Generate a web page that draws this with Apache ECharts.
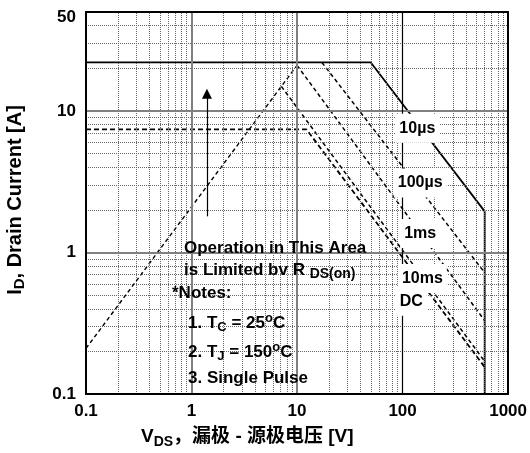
<!DOCTYPE html>
<html>
<head>
<meta charset="utf-8">
<script src="https://cdn.jsdelivr.net/npm/echarts@6/dist/echarts.min.js"></script>
<style>
  html, body { margin: 0; padding: 0; background: #fff; }
  #chart { width: 530px; height: 453px; }
</style>
</head>
<body>
<div id="chart"></div>
<script>
// Axis tick labels
const xTicks = [0.1, 1, 10, 100, 1000];
const yTicks = [0.1, 1, 10, 50];

// Safe operating area limits: V_DS [V] and I_D [A]
const rdsV = [0.1, 10];
const rdsI = [0.21, 21];
const us10V = [0.1, 50, 600, 600];
const us10I = [22, 22, 1.95, 0.1];
const us100V = [17.2, 600];
const us100I = [22, 0.72];
const ms1V = [10, 600];
const ms1I = [21, 0.33];
const ms10V = [7.1, 600];
const ms10I = [14.9, 0.17];
const dcV = [0.1, 12.3, 600];
const dcI = [7.4, 7.4, 0.155];

// Curve names
const curveNames = ['10µs', '100µs', '1ms', '10ms', 'DC'];

const FONT = '"Liberation Sans", Arial, "Noto Sans CJK SC", sans-serif';

function pairs(v, i) { return v.map((x, k) => [x, i[k]]); }

// Minor grid positions 2..9 within each decade of the axis ranges
function minorLines(lo, hi) {
  const out = [];
  for (let d = lo; d < hi; d *= 10) {
    for (let k = 2; k <= 9; k++) {
      const v = +(d * k).toPrecision(3);
      if (v < hi) out.push(v);
    }
  }
  return out;
}
const minorX = minorLines(0.1, 1000);
const minorY = minorLines(0.1, 50);

const minorStyle = { color: '#666', width: 1, type: [1, 1] };
const majorStyle = { color: '#808080', width: 2, type: 'solid' };
const gridData = []
  .concat(minorX.map(v => ({ xAxis: v, lineStyle: minorStyle })))
  .concat(minorY.map(v => ({ yAxis: v, lineStyle: minorStyle })))
  .concat([1, 10].map(v => ({ xAxis: v, lineStyle: majorStyle })))
  .concat([1, 10].map(v => ({ yAxis: v, lineStyle: majorStyle })))
  .concat([{ xAxis: 100, lineStyle: { color: '#000', width: 1.2, type: 'solid' } }]);

const dash = [4, 3];
function curve(name, v, i, style) {
  return {
    name, type: 'line', data: pairs(v, i), showSymbol: false, symbol: 'none',
    silent: true, z: 3, lineStyle: Object.assign({ color: '#000', width: 1.5, type: dash }, style)
  };
}

function curveLabel(text, coord) {
  return {
    coord, value: text,
    label: {
      show: true, formatter: text, color: '#000', backgroundColor: '#fff',
      fontFamily: FONT, fontWeight: 'bold', fontSize: 16, padding: [7, 4, 6, 4]
    }
  };
}

function richText(size, subSize) {
  return {
    m: { fontFamily: FONT, fontWeight: 'bold', fontSize: size, fill: '#000' },
    s: { fontFamily: FONT, fontWeight: 'bold', fontSize: subSize, fill: '#000', padding: [Math.round(size * 0.5), 0, 0, 0] },
    p: { fontFamily: FONT, fontWeight: 'bold', fontSize: subSize, fill: '#000', padding: [0, 0, Math.round(size * 0.55), 0] }
  };
}

const baseAxis = {
  type: 'log', logBase: 10,
  axisTick: { show: false },
  splitLine: { show: false },
  minorSplitLine: { show: false },
  axisLine: { show: true, lineStyle: { color: '#000', width: 2 } },
  z: 10
};
const fmt = v => String(+(+v).toPrecision(3));
const labelStyle = { color: '#000', fontFamily: FONT, fontWeight: 'bold', fontSize: 17 };

const option = {
  animation: false,
  backgroundColor: '#fff',
  grid: { left: 86, right: 21, top: 12, bottom: 59, show: false },
  xAxis: [
    Object.assign({}, baseAxis, {
      min: 0.1, max: 1000, position: 'bottom',
      axisLabel: Object.assign({ show: true, margin: 9, customValues: xTicks, formatter: fmt }, labelStyle)
    }),
    Object.assign({}, baseAxis, {
      min: 0.1, max: 1000, position: 'top', axisLabel: { show: false }
    })
  ],
  yAxis: [
    Object.assign({}, baseAxis, {
      min: 0.1, max: 50, position: 'left',
      axisLabel: Object.assign({
        show: true, margin: 10, customValues: yTicks,
        formatter: v => (+v >= 49 ? '{top|' + fmt(v) + '}' : fmt(v)),
        rich: { top: Object.assign({ padding: [11, 0, 0, 0] }, labelStyle) }
      }, labelStyle)
    }),
    Object.assign({}, baseAxis, {
      min: 0.1, max: 50, position: 'right', axisLabel: { show: false }
    })
  ],
  series: [
    {
      name: 'grid', type: 'line', data: [], z: 1, silent: true,
      markLine: {
        silent: true, symbol: 'none', label: { show: false }, animation: false,
        data: gridData
      }
    },
    curve('RDS(on)', rdsV, rdsI, { width: 1.4 }),
    curve(curveNames[0], us10V, us10I, { type: 'solid', width: 1.8 }),
    curve(curveNames[1], us100V, us100I, {}),
    curve(curveNames[2], ms1V, ms1I, {}),
    curve(curveNames[3], ms10V, ms10I, {}),
    curve(curveNames[4], dcV, dcI, { width: 1.8, type: [5, 3] }),
    {
      name: 'arrow', type: 'line', data: [], z: 3, silent: true,
      markLine: {
        silent: true, symbol: ['none', 'triangle'], symbolSize: 10,
        label: { show: false }, animation: false,
        lineStyle: { color: '#000', width: 1.2, type: 'solid' },
        itemStyle: { color: '#000' },
        data: [[{ coord: [1.4, 1.8] }, { coord: [1.4, 13.2] }]]
      }
    },
    {
      name: 'labels', type: 'line', data: [], z: 7, silent: true,
      markPoint: {
        silent: true, symbol: 'rect', symbolSize: 1, itemStyle: { color: 'rgba(0,0,0,0)' },
        animation: false,
        data: [
          curveLabel(curveNames[0], [138, 7.55]),
          curveLabel(curveNames[1], [147, 3.1]),
          curveLabel(curveNames[2], [147, 1.36]),
          curveLabel(curveNames[3], [154, 0.656]),
          curveLabel(curveNames[4], [121, 0.452])
        ]
      }
    }
  ],
  graphic: {
    elements: [
      { type: 'rect', z: 5, silent: true, shape: { x: 173, y: 236, width: 207, height: 48 }, style: { fill: '#fff' } },
      { type: 'rect', z: 5, silent: true, shape: { x: 165, y: 284, width: 148, height: 109 }, style: { fill: '#fff' } },
      {
        type: 'text', z: 8, silent: true, x: 184, y: 248,
        style: { text: 'Operation in This Area', fill: '#000', font: 'bold 17px ' + FONT, verticalAlign: 'middle' }
      },
      {
        type: 'text', z: 8, silent: true, x: 184, y: 270,
        style: {
          text: '{m|is Limited bv R }{s|DS(on)}', fill: '#000', verticalAlign: 'middle',
          rich: richText(17, 14)
        }
      },
      {
        type: 'text', z: 8, silent: true, x: 172, y: 293,
        style: { text: '*Notes:', fill: '#000', font: 'bold 17px ' + FONT, verticalAlign: 'middle' }
      },
      {
        type: 'text', z: 8, silent: true, x: 188, y: 323,
        style: { text: '{m|1. T}{s|C}{m| = 25}{p|o}{m|C}', fill: '#000', verticalAlign: 'middle', rich: richText(17, 13) }
      },
      {
        type: 'text', z: 8, silent: true, x: 188, y: 352,
        style: { text: '{m|2. T}{s|J}{m| = 150}{p|o}{m|C}', fill: '#000', verticalAlign: 'middle', rich: richText(17, 13) }
      },
      {
        type: 'text', z: 8, silent: true, x: 188, y: 378,
        style: { text: '3. Single Pulse', fill: '#000', font: 'bold 17px ' + FONT, verticalAlign: 'middle' }
      },
      {
        type: 'text', z: 8, silent: true, x: 141, y: 437,
        style: { text: '{m|V}{s|DS}{m|，漏极 - 源极电压 [V]}', fill: '#000', verticalAlign: 'middle', rich: richText(19, 14) }
      },
      {
        type: 'text', z: 8, silent: true, x: 15, y: 200, rotation: Math.PI / 2,
        style: {
          text: '{m|I}{s|D}{m|, Drain Current [A]}', fill: '#000', align: 'center', verticalAlign: 'middle',
          rich: richText(20, 15)
        }
      }
    ]
  }
};

const chart = echarts.init(document.getElementById('chart'), null, { renderer: 'canvas' });
chart.setOption(option);
</script>
</body>
</html>
